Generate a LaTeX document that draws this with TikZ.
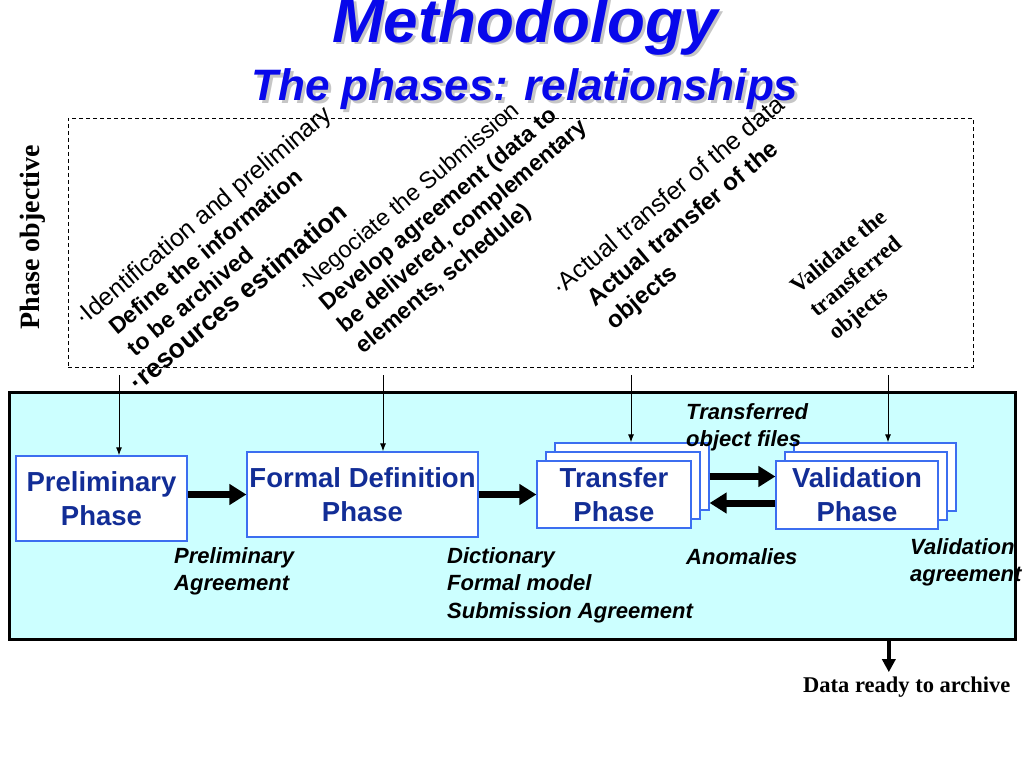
\documentclass[tikz,border=0pt]{standalone}
\usepackage{fontspec}
\setmainfont{Liberation Sans}
\newfontfamily\serifface{Liberation Serif}
\usepackage{tikz}
\usetikzlibrary{arrows.meta,positioning}

\definecolor{stagecyan}{RGB}{204,255,255}
\definecolor{titleblue}{RGB}{8,8,235}
\definecolor{phasetext}{RGB}{18,45,150}
\definecolor{phaseline}{RGB}{60,110,240}

\begin{document}
\begin{tikzpicture}[x=1pt,y=-1pt,
	titletext/.style={font=\bfseries\itshape\fontsize{#1}{#1}\selectfont,text=titleblue,inner sep=0pt,anchor=base},
	objtext/.style={rotate=40,anchor=north west,align=left,inner sep=0pt,font=\fontsize{25}{28.5}\selectfont},
	phasebox/.style={draw=phaseline,line width=1.2pt,fill=white,inner sep=0pt,align=center,text=phasetext,font=\bfseries\fontsize{27.5}{34}\selectfont},
	outtext/.style={font=\bfseries\itshape\fontsize{22}{27.5}\selectfont,align=left,anchor=north west,inner sep=0pt},
	bigarrow/.style={line width=7pt,-{Triangle[length=17pt,width=20pt]}},
	feed/.style={line width=1pt,shorten <=8pt,-{Latex[length=8pt,width=6pt]}}]
	\useasboundingbox (0,0) rectangle (1024,768);

	\node[titletext=62,text=gray!45] (shadowA) at (528,45) {Methodology};
	\node[titletext=62] (title) at (525,42) {Methodology};
	\node[titletext=44,text=gray!45] (shadowB) at (528,103) {The phases: relationships};
	\node[titletext=44] (subtitle) at (525,100) {The phases: relationships};

	\node[draw,dash pattern=on 4pt off 3pt,line width=0.8pt,minimum width=905pt,minimum height=249pt,inner sep=0pt] (objbox) at (520.5,242.5) {};
	\node[rotate=90,inner sep=0pt,font=\serifface\bfseries\fontsize{28}{28}\selectfont] (objlabel) at (33,237) {Phase objective};

	\begin{scope}
		\node[objtext] (obj1) at (71.5,313) {·Identification and preliminary\\
			{\hspace*{20pt}\fontsize{23}{28.5}\selectfont\bfseries Define the information}\\
			{\hspace*{20pt}\fontsize{23}{28.5}\selectfont\bfseries to be archived}\\
			{\fontsize{26.5}{30}\selectfont\bfseries ·resources estimation}};
		\node[objtext,font=\fontsize{23.5}{28}\selectfont] (obj2) at (294.5,280.5) {·Negociate the Submission\\
			{\hspace*{5pt}\fontsize{23}{28}\selectfont\bfseries Develop agreement (data to}\\
			{\hspace*{5pt}\fontsize{23}{28}\selectfont\bfseries be delivered, complementary}\\
			{\hspace*{5pt}\fontsize{23}{28}\selectfont\bfseries elements, schedule)}};
		\node[objtext,font=\fontsize{25}{30}\selectfont] (obj3) at (548.5,283) {·Actual transfer of the data\\
			{\hspace*{20pt}\fontsize{24}{30}\selectfont\bfseries Actual transfer of the}\\
			{\hspace*{20pt}\fontsize{24}{30}\selectfont\bfseries objects}};
		\node[objtext,font=\serifface\bfseries\fontsize{23}{30}\selectfont] (obj4) at (787.7,282.7) {Validate the\\transferred\\objects};
	\end{scope}

	\node[draw,line width=3pt,fill=stagecyan,minimum width=1006pt,minimum height=247pt] (stage) at (512,515.5) {};

	\begin{scope}
		\node[phasebox,minimum width=171pt,minimum height=85pt] (prel) at (101.5,498.5) {Preliminary\\Phase};
		\node[phasebox,minimum width=231pt,minimum height=85pt] (formal) at (362.5,494.5) {Formal Definition\\Phase};
		\foreach \d/\n in {18/c,9/b} {
			\node[phasebox,minimum width=154pt,minimum height=67pt] (transfer\n) at (614+\d,494.5-\d) {};
			\node[phasebox,minimum width=162pt,minimum height=68pt] (valid\n) at (857+\d,495-\d) {};
		}
		\node[phasebox,minimum width=154pt,minimum height=67pt] (transfer) at (614,494.5) {Transfer\\Phase};
		\node[phasebox,minimum width=162pt,minimum height=68pt] (valid) at (857,495) {Validation\\Phase};
	\end{scope}

	\begin{scope}
		\draw[bigarrow] (prel.east |- formal.west) -- (formal.west);
		\draw[bigarrow] (formal.east) -- (transfer.west);
		\draw[bigarrow] (transferc.east) -- (transferc.east -| valid.west);
		\draw[bigarrow] ([yshift=-8pt]valid.west) -- ([yshift=-8pt]valid.west -| transferc.east);
		\foreach \n/\dx in {prel/17.5,formal/20.5,transferc/-1,validc/13}
			\draw[feed] ([xshift=\dx pt]\n.north |- objbox.south) -- ([xshift=\dx pt]\n.north);
	\end{scope}

	\node[outtext] (prelagr) at (174,547) {Preliminary\\Agreement};
	\node[outtext] (dict) at (447,547) {Dictionary\\Formal model\\Submission Agreement};
	\node[outtext] (files) at (686,403) {Transferred\\object files};
	\node[outtext] (anom) at (686,548) {Anomalies};
	\node[outtext] (validagr) at (910,538) {Validation\\agreement};

	\node[anchor=base west,inner sep=0pt,font=\serifface\bfseries\fontsize{22.5}{22.5}\selectfont] (ready) at (803,692) {Data ready to archive};
	\draw[line width=4pt,-{Triangle[length=13pt,width=13pt]}] ([xshift=-18pt]ready.north |- stage.south) -- ([xshift=-18pt,yshift=4pt]ready.north);
\end{tikzpicture}
\end{document}
